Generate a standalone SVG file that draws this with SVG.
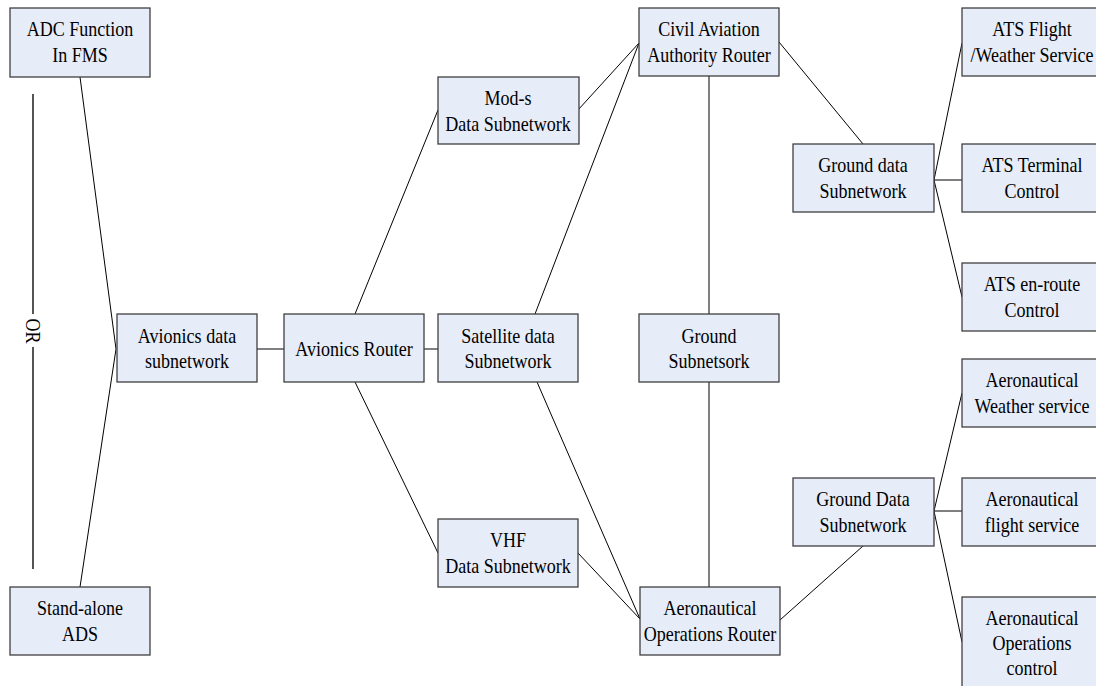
<svg xmlns="http://www.w3.org/2000/svg" width="1096" height="686" viewBox="0 0 1096 686">
<style>
.box{fill:#E6ECF8;stroke:#404040;stroke-width:1.3}
.t{font-family:'Liberation Serif','Times New Roman',serif;font-size:22px;fill:#000;text-anchor:middle}
.c{stroke:#000;stroke-width:1;fill:none}
.or{stroke:#555;stroke-width:2;fill:none}
</style>
<rect width="1096" height="686" fill="#fff"/>
<g id="connectors">
<line class="c" x1="80" y1="77" x2="116" y2="349"/>
<line class="c" x1="80" y1="587" x2="116" y2="349"/>
<line class="c" x1="257" y1="349" x2="284" y2="349"/>
<line class="c" x1="424" y1="349" x2="438" y2="349"/>
<line class="c" x1="355" y1="314" x2="438" y2="110"/>
<line class="c" x1="355" y1="382" x2="438" y2="553"/>
<line class="c" x1="578" y1="110" x2="639" y2="43"/>
<line class="c" x1="535" y1="314" x2="639" y2="43"/>
<line class="c" x1="537" y1="382" x2="640" y2="619"/>
<line class="c" x1="578" y1="553" x2="640" y2="619"/>
<line class="c" x1="709" y1="76" x2="709" y2="314"/>
<line class="c" x1="709" y1="382" x2="709" y2="587"/>
<line class="c" x1="779" y1="42" x2="863" y2="144"/>
<line class="c" x1="780" y1="620" x2="863" y2="546"/>
<line class="c" x1="934" y1="180" x2="962" y2="43"/>
<line class="c" x1="934" y1="180" x2="962" y2="180"/>
<line class="c" x1="934" y1="180" x2="962" y2="297"/>
<line class="c" x1="934" y1="511" x2="962" y2="393"/>
<line class="c" x1="934" y1="511" x2="962" y2="511"/>
<line class="c" x1="934" y1="511" x2="962" y2="642"/>
</g>
<g id="or-label">
<line class="or" x1="33" y1="94" x2="33" y2="314"/>
<line class="or" x1="33" y1="347" x2="33" y2="569"/>
<text class="t" transform="translate(26,331) rotate(90) scale(0.82,1)">OR</text>
</g>
<g id="adc">
<rect class="box" x="10" y="8" width="140" height="69"/>
<text class="t" transform="translate(80,36) scale(0.82,1)">ADC Function</text>
<text class="t" transform="translate(80,62) scale(0.82,1)">In FMS</text>
</g>
<g id="standalone">
<rect class="box" x="10" y="587" width="140" height="68"/>
<text class="t" transform="translate(80,615) scale(0.82,1)">Stand-alone</text>
<text class="t" transform="translate(80,641) scale(0.82,1)">ADS</text>
</g>
<g id="avionics-data">
<rect class="box" x="117" y="314" width="140" height="68"/>
<text class="t" transform="translate(187,343) scale(0.82,1)">Avionics data</text>
<text class="t" transform="translate(187,368) scale(0.82,1)">subnetwork</text>
</g>
<g id="avionics-router">
<rect class="box" x="284" y="314" width="140" height="68"/>
<text class="t" transform="translate(354,356) scale(0.82,1)">Avionics Router</text>
</g>
<g id="mods">
<rect class="box" x="438" y="77" width="141" height="67"/>
<text class="t" transform="translate(508,105) scale(0.82,1)">Mod-s</text>
<text class="t" transform="translate(508,131) scale(0.82,1)">Data Subnetwork</text>
</g>
<g id="satellite">
<rect class="box" x="438" y="314" width="140" height="68"/>
<text class="t" transform="translate(508,343) scale(0.82,1)">Satellite data</text>
<text class="t" transform="translate(508,368) scale(0.82,1)">Subnetwork</text>
</g>
<g id="vhf">
<rect class="box" x="438" y="519" width="140" height="68"/>
<text class="t" transform="translate(508,547) scale(0.82,1)">VHF</text>
<text class="t" transform="translate(508,573) scale(0.82,1)">Data Subnetwork</text>
</g>
<g id="civil">
<rect class="box" x="639" y="8" width="140" height="68"/>
<text class="t" transform="translate(709,36) scale(0.82,1)">Civil Aviation</text>
<text class="t" transform="translate(709,62) scale(0.82,1)">Authority Router</text>
</g>
<g id="ground-subnet">
<rect class="box" x="639" y="314" width="140" height="68"/>
<text class="t" transform="translate(709,343) scale(0.82,1)">Ground</text>
<text class="t" transform="translate(709,368) scale(0.82,1)">Subnetsork</text>
</g>
<g id="aero-ops-router">
<rect class="box" x="640" y="587" width="140" height="68"/>
<text class="t" transform="translate(710,615) scale(0.82,1)">Aeronautical</text>
<text class="t" transform="translate(710,641) scale(0.82,1)">Operations Router</text>
</g>
<g id="ground-data-upper">
<rect class="box" x="793" y="144" width="141" height="68"/>
<text class="t" transform="translate(863,172) scale(0.82,1)">Ground data</text>
<text class="t" transform="translate(863,198) scale(0.82,1)">Subnetwork</text>
</g>
<g id="ground-data-lower">
<rect class="box" x="793" y="478" width="141" height="68"/>
<text class="t" transform="translate(863,506) scale(0.82,1)">Ground Data</text>
<text class="t" transform="translate(863,532) scale(0.82,1)">Subnetwork</text>
</g>
<g id="ats-flight">
<rect class="box" x="962" y="8" width="140" height="68"/>
<text class="t" transform="translate(1032,36) scale(0.82,1)">ATS Flight</text>
<text class="t" transform="translate(1032,62) scale(0.82,1)">/Weather Service</text>
</g>
<g id="ats-terminal">
<rect class="box" x="962" y="144" width="140" height="68"/>
<text class="t" transform="translate(1032,172) scale(0.82,1)">ATS Terminal</text>
<text class="t" transform="translate(1032,198) scale(0.82,1)">Control</text>
</g>
<g id="ats-enroute">
<rect class="box" x="962" y="263" width="140" height="68"/>
<text class="t" transform="translate(1032,291) scale(0.82,1)">ATS en-route</text>
<text class="t" transform="translate(1032,317) scale(0.82,1)">Control</text>
</g>
<g id="aero-weather">
<rect class="box" x="962" y="359" width="140" height="68"/>
<text class="t" transform="translate(1032,387) scale(0.82,1)">Aeronautical</text>
<text class="t" transform="translate(1032,413) scale(0.82,1)">Weather service</text>
</g>
<g id="aero-flight">
<rect class="box" x="962" y="478" width="140" height="68"/>
<text class="t" transform="translate(1032,506) scale(0.82,1)">Aeronautical</text>
<text class="t" transform="translate(1032,532) scale(0.82,1)">flight service</text>
</g>
<g id="aero-ops-control">
<rect class="box" x="962" y="597" width="140" height="95"/>
<text class="t" transform="translate(1032,625) scale(0.82,1)">Aeronautical</text>
<text class="t" transform="translate(1032,650) scale(0.82,1)">Operations</text>
<text class="t" transform="translate(1032,675) scale(0.82,1)">control</text>
</g>
</svg>
